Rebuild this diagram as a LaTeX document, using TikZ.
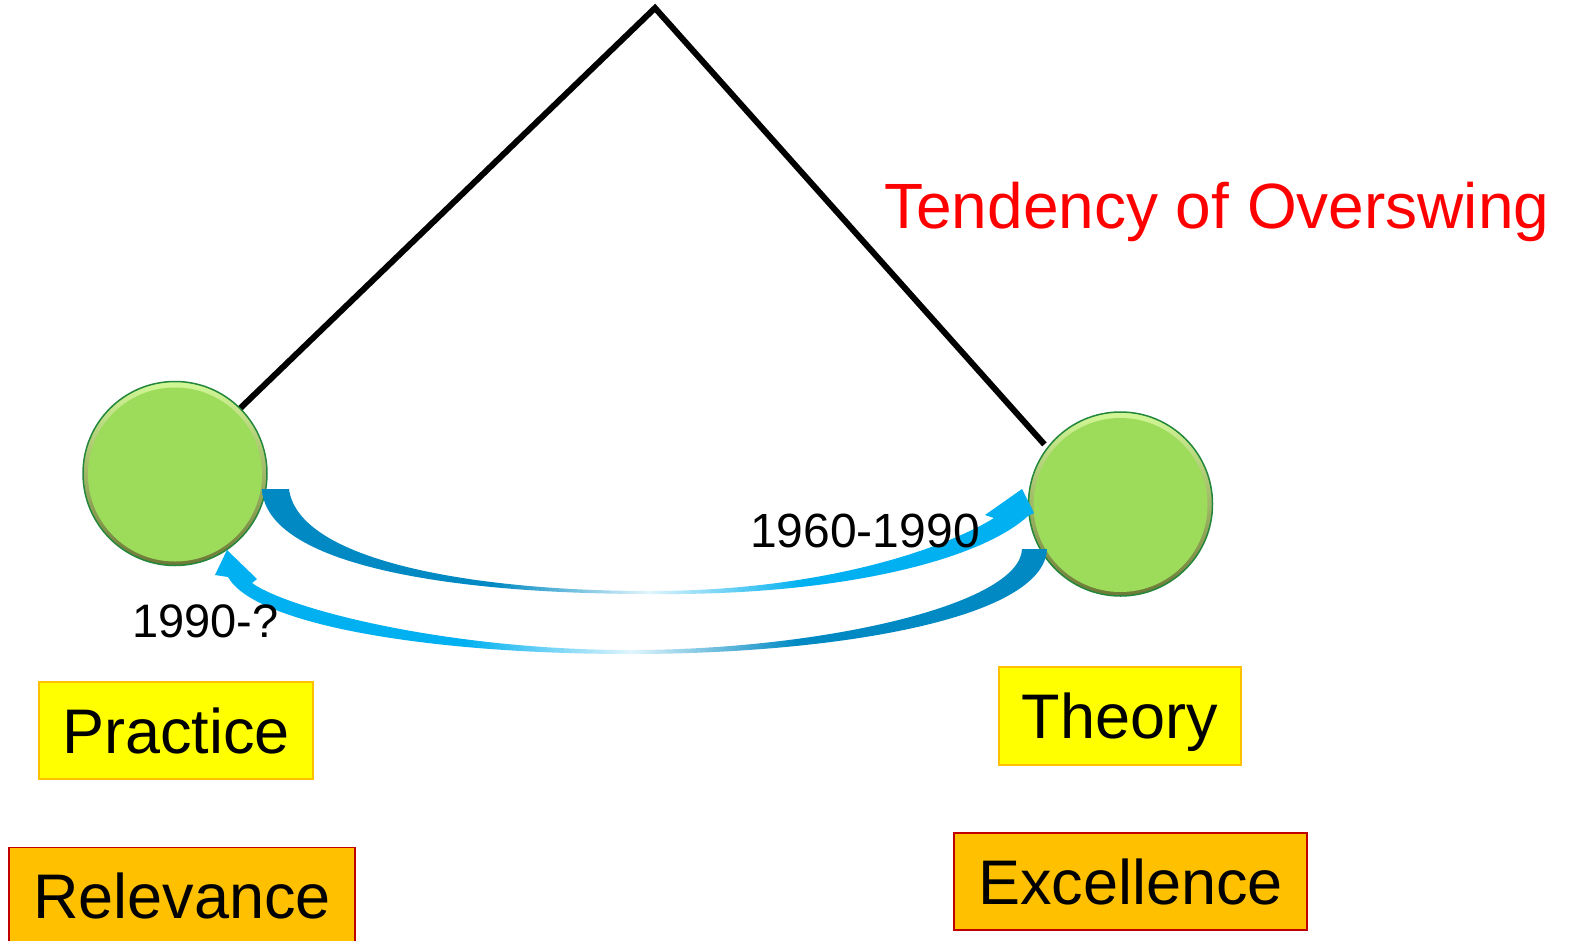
\documentclass[tikz,border=0pt]{standalone}
\usepackage{fontspec}
\setmainfont{Liberation Sans}
\definecolor{ballG}{RGB}{156,220,90}
\definecolor{ballLight}{RGB}{210,248,150}
\definecolor{ballDark}{RGB}{110,120,55}
\definecolor{ballEdge}{RGB}{35,135,60}
\definecolor{arrDark}{RGB}{0,137,194}
\definecolor{arrCyan}{RGB}{0,176,240}
\definecolor{arrLight}{RGB}{225,245,252}
\definecolor{yel}{RGB}{255,255,0}
\definecolor{gold}{RGB}{255,192,0}
\definecolor{dred}{RGB}{192,0,0}
\definecolor{headRed}{RGB}{255,0,0}
\pgfdeclarehorizontalshading{shadeA}{100bp}{color(0bp)=(arrDark); color(40bp)=(arrDark); color(50bp)=(arrLight); color(60bp)=(arrCyan); color(100bp)=(arrCyan)}
\pgfdeclarehorizontalshading{shadeB}{100bp}{color(0bp)=(arrCyan); color(40bp)=(arrCyan); color(50bp)=(arrLight); color(60bp)=(arrDark); color(100bp)=(arrDark)}
\tikzset{
  ball/.style={circle, minimum size=184pt, inner sep=0pt, draw=ballEdge, line width=1.5pt,
    path picture={
      \shade[top color=ballLight, bottom color=ballDark]
        (path picture bounding box.south west) rectangle (path picture bounding box.north east);
      \fill[ballG] ([yshift=-1pt]path picture bounding box.center) circle[radius=87pt];
    }},
  boxtext/.style={inner sep=0pt, text height=45pt, text depth=0pt, line width=1.5pt,
    font=\fontsize{63}{70}\selectfont},
  ybox/.style={boxtext, draw=gold, fill=yel},
  obox/.style={boxtext, draw=dred, fill=gold},
  yearlbl/.style={anchor=base west, inner sep=0pt},
  pend/.style={line width=6pt, draw=black}
}
\begin{document}
\begin{tikzpicture}[x=1pt,y=-1pt]
\useasboundingbox (0,0) rectangle (1571,940);
\clip (0,0) rectangle (1571,940);
\fill[white] (0,0) rectangle (1571,940);

% balls
\node[ball] (L) at (175,473.5) {};
\node[ball] (R) at (1120.5,504) {};

% pendulum lines
\coordinate (apex) at (655,8);
\draw[pend] (L.45) -- (apex) -- ([shift={(-3pt,2.5pt)}]R.142);

% arrow 1960-1990 (practice -> theory)
\shade[shading=shadeA]
  (262,489) -- (289,489)
  .. controls (298,560) and (470,591) .. (650,591)
  .. controls (820,591) and (942,550) .. (994,518)
  -- (985,515) -- (1022,489) -- (1034,513) -- (1028,516)
  .. controls (980,560) and (840,596) .. (650,594)
  .. controls (450,594) and (266,565) .. (262,489) -- cycle;

% arrow 1990-? (theory -> practice)
\shade[shading=shadeB]
  (1022,549) -- (1047,549)
  .. controls (1044,620) and (830,654) .. (630,654)
  .. controls (430,654) and (255,625) .. (228,577)
  -- (215,575) -- (227,550) -- (257,579) -- (252,583)
  .. controls (290,610) and (450,650) .. (630,650)
  .. controls (820,650) and (1020,605) .. (1022,549) -- cycle;

% labels
\node[anchor=base west, inner sep=0pt, text=headRed, font=\fontsize{64}{72}\selectfont] (tend) at (884,228) {Tendency of Overswing};
\node[yearlbl, font=\fontsize{48}{56}\selectfont] (y1) at (750,547) {1960-1990};
\node[yearlbl, font=\fontsize{47}{55}\selectfont] (y2) at (132,637) {1990-?};

% boxes
\node[ybox, minimum width=274pt, minimum height=97pt] (prac) at (176,730.5) {Practice};
\node[obox, minimum width=346pt, minimum height=97pt] (rel) at (182,896) {Relevance};
\node[ybox, minimum width=242pt, minimum height=98pt] (theo) at (1120,716) {Theory};
\node[obox, minimum width=353pt, minimum height=97pt] (exc) at (1130.5,881.5) {Excellence};
\end{tikzpicture}
\end{document}
